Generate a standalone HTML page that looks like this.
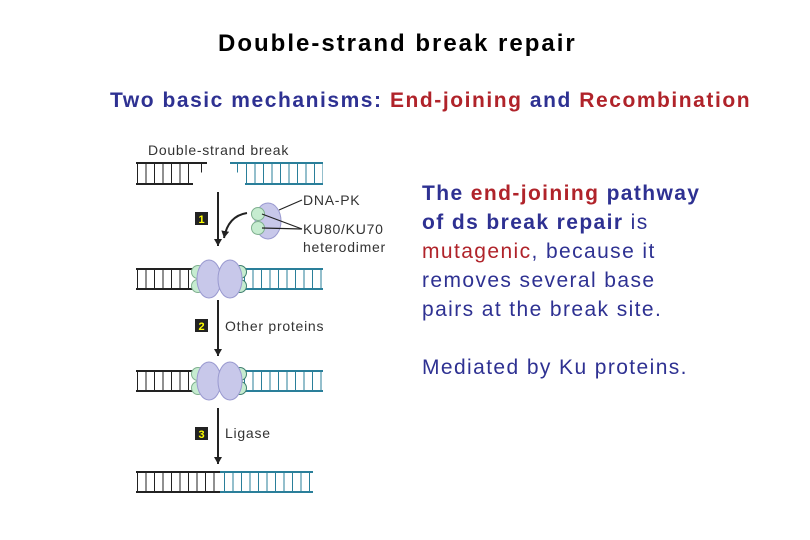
<!DOCTYPE html>
<html><head><meta charset="utf-8"><style>
body{margin:0;width:810px;height:540px;background:#fff;position:relative;overflow:hidden;font-family:"Liberation Sans",sans-serif}
.t{position:absolute;white-space:nowrap}
.b{color:#2e3192}.r{color:#b0232a}
</style></head><body>
<div class="t" style="left:218px;top:30px;font-size:24px;font-weight:bold;color:#000;letter-spacing:2px">Double-strand break repair</div>
<div class="t b" style="left:110px;top:89px;font-size:21px;font-weight:bold;letter-spacing:1.55px">Two basic mechanisms: <span class="r">End-joining</span> and <span class="r">Recombination</span></div>
<div class="t b" style="left:422px;top:179px;font-size:21px;line-height:29px;letter-spacing:1.4px">
<b>The <span class="r">end-joining</span> pathway<br>of ds break repair</b> is<br><span class="r">mutagenic</span>, because it<br>removes several base<br>pairs at the break site.<br><br>Mediated by Ku proteins.</div>
<svg width="810" height="540" style="position:absolute;left:0;top:0" font-family="Liberation Sans,sans-serif">
<defs><marker id="a" markerWidth="8" markerHeight="8" refX="7" refY="4" orient="auto" markerUnits="userSpaceOnUse"><path d="M0,0 L7,4 L0,8z" fill="#222"/></marker></defs>
<g font-size="14" fill="#333" letter-spacing="0.75">
<text x="148" y="155">Double-strand break</text>
<text x="303" y="205">DNA-PK</text>
<text x="303" y="234">KU80/KU70</text>
<text x="303" y="252">heterodimer</text>
<text x="225" y="331">Other proteins</text>
<text x="225" y="438">Ligase</text>
</g>
<!-- duplex 1 -->
<g stroke-width="2"><line x1="136" y1="163" x2="207" y2="163" stroke="#222"/><line x1="136" y1="184" x2="193" y2="184" stroke="#222"/>
<line x1="230" y1="163" x2="323" y2="163" stroke="#2a7f9a"/><line x1="245" y1="184" x2="323" y2="184" stroke="#2a7f9a"/></g>
<line x1="137" y1="173.5" x2="193" y2="173.5" stroke="#222" stroke-width="19" stroke-dasharray="1 7.5"/>
<line x1="201" y1="168" x2="207" y2="168" stroke="#222" stroke-width="9" stroke-dasharray="1 5"/>
<line x1="237" y1="168" x2="245" y2="168" stroke="#2a7f9a" stroke-width="9" stroke-dasharray="1 7.5"/>
<line x1="246" y1="173.5" x2="323" y2="173.5" stroke="#2a7f9a" stroke-width="19" stroke-dasharray="1 7.5"/>
<!-- step 1 -->
<line x1="218" y1="192" x2="218" y2="246" stroke="#222" stroke-width="2" marker-end="url(#a)"/>
<rect x="195" y="212" width="13" height="13" fill="#222"/><text x="201.5" y="223" font-size="11" font-weight="bold" fill="#ff0" text-anchor="middle">1</text>
<path d="M247,213 Q228,216 224,238" fill="none" stroke="#222" stroke-width="2" marker-end="url(#a)"/>
<ellipse cx="268" cy="221" rx="13" ry="18" fill="#c8c8ea" stroke="#9a9ad0"/>
<circle cx="258" cy="214" r="6.5" fill="#c6ecd0" stroke="#7fb08f"/><circle cx="258" cy="228" r="6.5" fill="#c6ecd0" stroke="#7fb08f"/>
<g stroke="#222" stroke-width="1.2"><line x1="279" y1="210" x2="302" y2="200"/><line x1="262" y1="214" x2="302" y2="229"/><line x1="262" y1="228" x2="302" y2="229"/></g>
<!-- duplex 2 & 3 -->
<g id="d2">
<line x1="136" y1="269" x2="210" y2="269" stroke="#222" stroke-width="2"/><line x1="136" y1="289" x2="210" y2="289" stroke="#222" stroke-width="2"/>
<line x1="233" y1="269" x2="323" y2="269" stroke="#2a7f9a" stroke-width="2"/><line x1="233" y1="289" x2="323" y2="289" stroke="#2a7f9a" stroke-width="2"/>
<line x1="137" y1="279" x2="200" y2="279" stroke="#222" stroke-width="20" stroke-dasharray="1 7.5"/>
<line x1="244" y1="279" x2="323" y2="279" stroke="#2a7f9a" stroke-width="20" stroke-dasharray="1 7.5"/>
<circle cx="198" cy="272" r="6.5" fill="#c6ecd0" stroke="#7fb08f"/><circle cx="198" cy="286" r="6.5" fill="#c6ecd0" stroke="#7fb08f"/>
<circle cx="240" cy="272" r="6.5" fill="#c6ecd0" stroke="#3f7f6f"/><circle cx="240" cy="286" r="6.5" fill="#c6ecd0" stroke="#3f7f6f"/>
<ellipse cx="209" cy="279" rx="12" ry="19" fill="#c8c8ea" stroke="#9a9ad0"/>
<ellipse cx="230" cy="279" rx="12" ry="19" fill="#c8c8ea" stroke="#9a9ad0"/>
</g>
<use href="#d2" y="102"/>
<!-- step 2 -->
<line x1="218" y1="300" x2="218" y2="356" stroke="#222" stroke-width="2" marker-end="url(#a)"/>
<rect x="195" y="319" width="13" height="13" fill="#222"/><text x="201.5" y="330" font-size="11" font-weight="bold" fill="#ff0" text-anchor="middle">2</text>
<!-- step 3 -->
<line x1="218" y1="408" x2="218" y2="464" stroke="#222" stroke-width="2" marker-end="url(#a)"/>
<rect x="195" y="427" width="13" height="13" fill="#222"/><text x="201.5" y="438" font-size="11" font-weight="bold" fill="#ff0" text-anchor="middle">3</text>
<!-- duplex 4 -->
<line x1="136" y1="472" x2="220" y2="472" stroke="#222" stroke-width="2"/><line x1="136" y1="492" x2="220" y2="492" stroke="#222" stroke-width="2"/>
<line x1="220" y1="472" x2="313" y2="472" stroke="#2a7f9a" stroke-width="2"/><line x1="220" y1="492" x2="313" y2="492" stroke="#2a7f9a" stroke-width="2"/>
<line x1="137" y1="482" x2="220" y2="482" stroke="#222" stroke-width="20" stroke-dasharray="1 7.5"/>
<line x1="224" y1="482" x2="313" y2="482" stroke="#2a7f9a" stroke-width="20" stroke-dasharray="1 7.5"/>
</svg>
</body></html>
